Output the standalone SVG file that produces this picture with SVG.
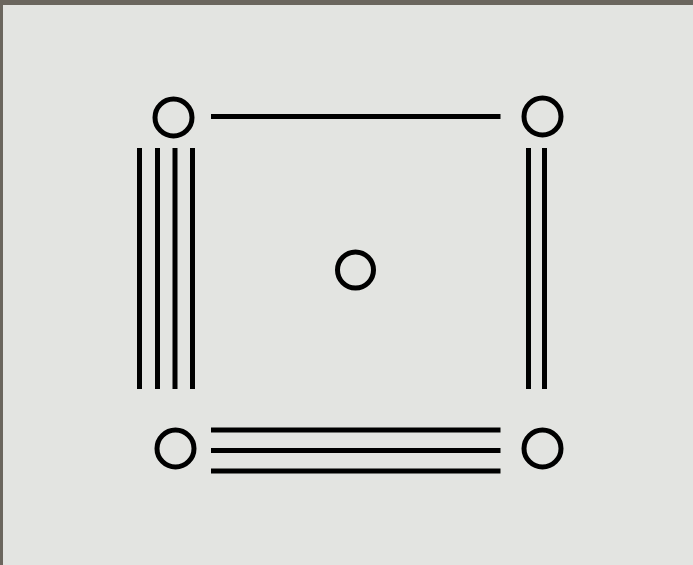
<svg xmlns="http://www.w3.org/2000/svg" width="693" height="565" viewBox="0 0 693 565">
<style>
.n{fill:none;stroke:#000;stroke-width:5}
.c line{stroke:#000;stroke-width:5}
</style>
<rect x="0" y="0" width="693" height="565" fill="#6b665e"/>
<rect x="3" y="5" width="690" height="560" fill="#e3e4e1"/>
<g id="node-tl"><circle class="n" cx="173.5" cy="117.5" r="18.5"/></g>
<g id="node-tr"><circle class="n" cx="542.5" cy="116.5" r="18.5"/></g>
<g id="node-c"><circle class="n" cx="355.5" cy="270" r="18"/></g>
<g id="node-bl"><circle class="n" cx="175.5" cy="448.5" r="18.5"/></g>
<g id="node-br"><circle class="n" cx="542.5" cy="448.5" r="18.5"/></g>
<g id="connectors" class="c">
<line x1="211" y1="116.5" x2="500.5" y2="116.5"/>
<line x1="139.5" y1="148" x2="139.5" y2="389"/>
<line x1="157.5" y1="148" x2="157.5" y2="389"/>
<line x1="175" y1="148" x2="175" y2="389"/>
<line x1="192.5" y1="148" x2="192.5" y2="389"/>
<line x1="528.5" y1="148" x2="528.5" y2="389"/>
<line x1="544.5" y1="148" x2="544.5" y2="389"/>
<line x1="211" y1="430" x2="500.5" y2="430"/>
<line x1="211" y1="450.5" x2="500.5" y2="450.5"/>
<line x1="211" y1="471" x2="500.5" y2="471"/>
</g>
</svg>
